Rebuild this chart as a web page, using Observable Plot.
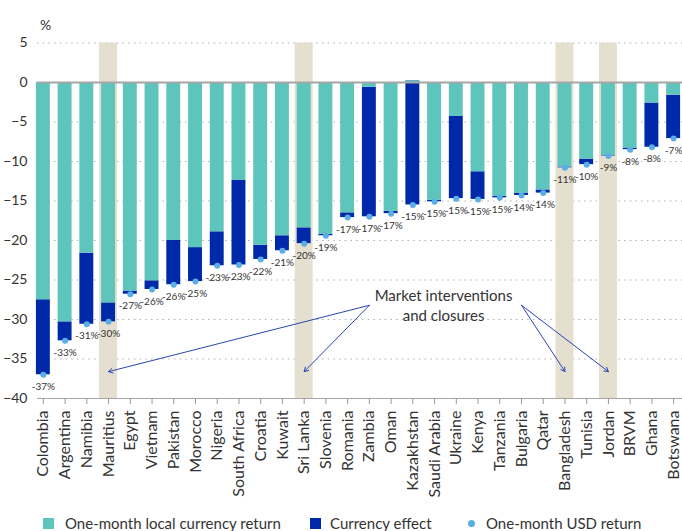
<!DOCTYPE html>
<html><head><meta charset="utf-8">
<script src="https://cdn.jsdelivr.net/npm/d3@7"></script>
<script src="https://cdn.jsdelivr.net/npm/@observablehq/plot@0.6"></script>
<style>
body{margin:0;background:#fff;font-family:Lato,sans-serif;}
#chart svg{display:block;}
#legend{position:relative;height:21px;width:682px;font-size:15px;color:#333;}
#legend .sw{position:absolute;top:8px;width:11px;height:11px;}
#legend .dt{position:absolute;top:10px;width:7px;height:7px;border-radius:50%;}
#legend .lt{position:absolute;top:4px;line-height:18px;white-space:nowrap;}
</style></head><body>
<div id="chart"></div>
<div id="legend"></div>
<script>
const countries = ["Colombia","Argentina","Namibia","Mauritius","Egypt","Vietnam","Pakistan","Morocco","Nigeria","South Africa","Croatia","Kuwait","Sri Lanka","Slovenia","Romania","Zambia","Oman","Kazakhstan","Saudi Arabia","Ukraine","Kenya","Tanzania","Bulgaria","Qatar","Bangladesh","Tunisia","Jordan","BRVM","Ghana","Botswana"];
const localReturn = [-27.5,-30.3,-21.6,-27.9,-26.4,-25.1,-20.0,-20.9,-18.9,-12.4,-20.6,-19.4,-18.4,-19.2,-16.5,-0.6,-16.3,0.2,-14.9,-4.3,-11.3,-14.4,-14.0,-13.6,-10.7,-9.7,-9.2,-8.3,-2.6,-1.6];
const usdReturn = [-37.0,-32.7,-30.6,-30.3,-26.8,-26.2,-25.6,-25.2,-23.2,-23.1,-22.4,-21.3,-20.4,-19.4,-17.1,-17.0,-16.6,-15.5,-15.1,-14.7,-14.8,-14.6,-14.3,-14.0,-10.8,-10.4,-9.3,-8.5,-8.2,-7.1];
const highlighted = ["Mauritius","Sri Lanka","Bangladesh","Jordan"];
const yTicks = [5,0,-5,-10,-15,-20,-25,-30,-35,-40];
const gridValues = [5,-5,-10,-15,-20,-25,-30,-35];
const annotationText = "Market interventions\nand closures";
const arrowFrom = ["Zambia","Zambia","Bulgaria","Bulgaria"];
const arrowTo = ["Mauritius","Sri Lanka","Bangladesh","Jordan"];
const arrowStartY = -28.2, arrowEndY = -36.6;
const seriesNames = ["One-month local currency return","Currency effect","One-month USD return"];

const teal = "#5ec5bd", blue = "#0029a9", dotColor = "#5aaee6", band = "#e4dfcf";

const rows = countries.map((c,i)=>({country:c, local:localReturn[i], usd:usdReturn[i], label:`${Math.round(usdReturn[i])}%`}));
const arrows = arrowFrom.map((f,i)=>({from:f, to:arrowTo[i]}));

const chart = Plot.plot({
  width: 682, height: 510,
  marginLeft: 37, marginRight: 0, marginTop: 42.5, marginBottom: 112,
  style: {fontFamily: "Lato, sans-serif", fontSize: "14px", color: "#333", background: "#fff"},
  x: {domain: countries, range: [32, 684], round: false, paddingInner: 0.175, paddingOuter: 0.0875, label: null},
  y: {domain: [-40, 5], label: null},
  marks: [
    Plot.ruleY(gridValues, {stroke: "#b0b0b0", strokeDasharray: "1.5,4.2", strokeWidth: 1.2}),
    Plot.barY(highlighted, {x: d=>d, y1: -40, y2: 5, fill: band}),
    Plot.barY(rows, {x: "country", y1: "local", y2: "usd", fill: blue, insetLeft: 2, insetRight: 2}),
    Plot.barY(rows, {x: "country", y1: 0, y2: "local", fill: teal, insetLeft: 2, insetRight: 2}),
    Plot.ruleY([0], {stroke: "#a6a6a6", strokeWidth: 2}),
    Plot.ruleY([-40], {stroke: "#a6a6a6"}),
    Plot.dot(rows, {x: "country", y: "usd", r: 3, fill: dotColor}),
    Plot.text(rows, {x: "country", y: "usd", text: "label", dy: 12, fontSize: 10, fill: "#333"}),
    Plot.axisY({ticks: yTicks, tickSize: 0, tickPadding: 10, fontSize: 14, fill: "#333"}),
    Plot.axisX({tickRotate: -90, tickSize: 6, tickPadding: 6, stroke: "#999", fontSize: 16, fill: "#333"}),
    Plot.text(["%"], {text: d=>d, frameAnchor: "top-left", dx: 8, dy: -23, textAnchor: "middle", fontSize: 14, fill: "#333"}),
    Plot.arrow(arrows, {x1: "from", y1: ()=>arrowStartY, x2: "to", y2: ()=>arrowEndY, stroke: "#2a46b5", strokeWidth: 1, headLength: 7}),
    Plot.text([annotationText], {x: ()=>"Saudi Arabia", y: ()=>-28.06, text: d=>d, dx: 9, lineHeight: 1.36, fontSize: 15, fill: "#333"})
  ]
});
document.getElementById("chart").append(chart);

const legend = document.getElementById("legend");
const items = [
  {kind:"sw", color:teal, left:43, textLeft:65},
  {kind:"sw", color:blue, left:310, textLeft:330},
  {kind:"dt", color:dotColor, left:468, textLeft:486}
];
items.forEach((it,i)=>{
  const s = document.createElement("span");
  s.className = it.kind; s.style.left = it.left+"px"; s.style.background = it.color;
  legend.append(s);
  const t = document.createElement("span");
  t.className = "lt"; t.style.left = it.textLeft+"px"; t.textContent = seriesNames[i];
  legend.append(t);
});
</script>
</body></html>
